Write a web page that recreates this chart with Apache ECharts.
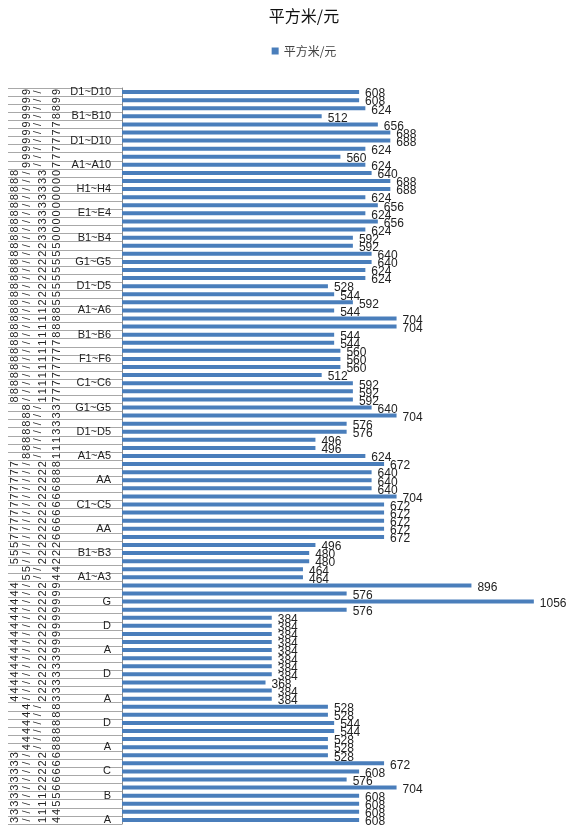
<!DOCTYPE html>
<html><head><meta charset="utf-8">
<script src="https://cdn.jsdelivr.net/npm/echarts@6.0.0/dist/echarts.min.js"></script>
<style>
html,body{margin:0;padding:0;width:570px;height:827px;overflow:hidden;background:#fff}
#c{width:608px;height:827px}
</style></head>
<body><div id="c"></div>
<script>
const seriesName = '平方米/元';
const values = [
  608,608,624,512,656,688,688,624,560,624,
  640,688,688,624,656,624,656,624,592,592,
  640,640,624,624,528,544,592,544,704,704,
  544,544,560,560,560,512,592,592,592,640,
  704,576,576,496,496,624,672,640,640,640,
  704,672,672,672,672,672,496,480,480,464,
  464,896,576,1056,576,384,384,384,384,384,
  384,384,384,368,384,384,528,528,544,544,
  528,528,528,672,608,576,704,608,608,608,608
];
const dates = [
  '9/9','9/9','9/8','9/8','9/7','9/7','9/7','9/7','9/7','9/7',
  '8/30','8/30','8/30','8/30','8/30','8/30','8/30','8/30','8/30',
  '8/25','8/25','8/25','8/25','8/25','8/25','8/25','8/25',
  '8/18','8/18','8/18','8/18',
  '8/17','8/17','8/17','8/17','8/17','8/17','8/17','8/17',
  '8/3','8/3','8/3','8/3',
  '8/1','8/1','8/1',
  '7/28','7/28','7/28',
  '7/26','7/26','7/26','7/26','7/26','7/26','7/26',
  '5/22','5/22','5/22',
  '5/4','5/4',
  '4/29','4/29','4/29','4/29','4/29','4/29','4/29','4/29','4/29',
  '4/23','4/23','4/23','4/23','4/23','4/23',
  '4/8','4/8','4/8','4/8','4/8','4/8',
  '3/26','3/26','3/26','3/26','3/26',
  '3/15','3/15',
  '3/14','3/14'
];
// labels that are visible in the inner category column (every third row)
const shownNames = [
  'D1~D10','B1~B10','D1~D10','A1~A10','H1~H4','E1~E4','B1~B4','G1~G5','D1~D5','A1~A6',
  'B1~B6','F1~F6','C1~C6','G1~G5','D1~D5','A1~A5','AA','C1~C5','AA','B1~B3',
  'A1~A3','G','D','A','D','A','D','A','C','B','A'
];

const FONT = "'Liberation Sans',Arial,sans-serif";
const rowIds = values.map((v, i) => 'r' + i);
const nameRows = values.map((v, i) => (i % 3 === 0 ? shownNames[i / 3] : ''));

// character slots of the rotated date labels
const slotX = { A: 15, B: 27, C: 38, D: 43, E: 57 };
const slotsFor = { 4: ['A', 'B', 'D', 'E'], 3: ['B', 'C', 'E'] };
function charOf(label, slot) {
  const s = slotsFor[label.length] || [];
  const k = s.indexOf(slot);
  return k >= 0 ? label[k] : '';
}
const CHAR_FS = 11;
const AXIS_X = 122;

const slotAxes = Object.keys(slotX).map(k => ({
  type: 'category', gridIndex: 0, inverse: true, position: 'left',
  offset: AXIS_X - slotX[k] - CHAR_FS / 2,
  data: rowIds,
  axisLine: { show: false }, axisTick: { show: false }, splitLine: { show: false },
  axisLabel: {
    interval: 0, rotate: 90, margin: 0, fontSize: CHAR_FS, lineHeight: CHAR_FS,
    fontFamily: FONT, color: '#222',
    formatter: (v, idx) => charOf(dates[idx], k)
  }
}));

const chart = echarts.init(document.getElementById('c'), null, { renderer: 'canvas' });
chart.setOption({
  animation: false,
  backgroundColor: '#fff',
  title: {
    text: seriesName, left: 'center', top: 3,
    textStyle: { fontSize: 16, fontWeight: 'normal', color: '#111', fontFamily: "'Noto Sans CJK SC',sans-serif" }
  },
  legend: {
    data: [seriesName], top: 40, left: 'center', icon: 'rect', itemWidth: 7, itemHeight: 7, itemGap: 4,
    textStyle: { fontSize: 12, color: '#444', fontFamily: "'Noto Sans CJK SC',sans-serif" }
  },
  grid: { left: AXIS_X, right: 18, top: 88, bottom: 3, containLabel: false },
  xAxis: { type: 'value', min: 0, max: 1200, show: false },
  yAxis: [{
    type: 'category', inverse: true, data: rowIds, position: 'left',
    axisLine: { show: true, lineStyle: { color: '#8c8c8c', width: 1 } },
    axisTick: { show: true, length: 114, interval: 0, lineStyle: { color: '#a8a8a8', width: 1 } },
    axisLabel: {
      interval: 0, margin: 11, fontSize: 11, color: '#222', fontFamily: FONT,
      formatter: (v, idx) => nameRows[idx]
    },
    splitLine: { show: false }
  }].concat(slotAxes),
  series: [{
    type: 'bar', name: seriesName, data: values, barWidth: 4,
    itemStyle: { color: '#4A7EBB' },
    label: {
      show: true, position: 'right', distance: 6, offset: [0, 2],
      fontSize: 12, color: '#222', fontFamily: FONT
    }
  }]
});
</script>
</body></html>
